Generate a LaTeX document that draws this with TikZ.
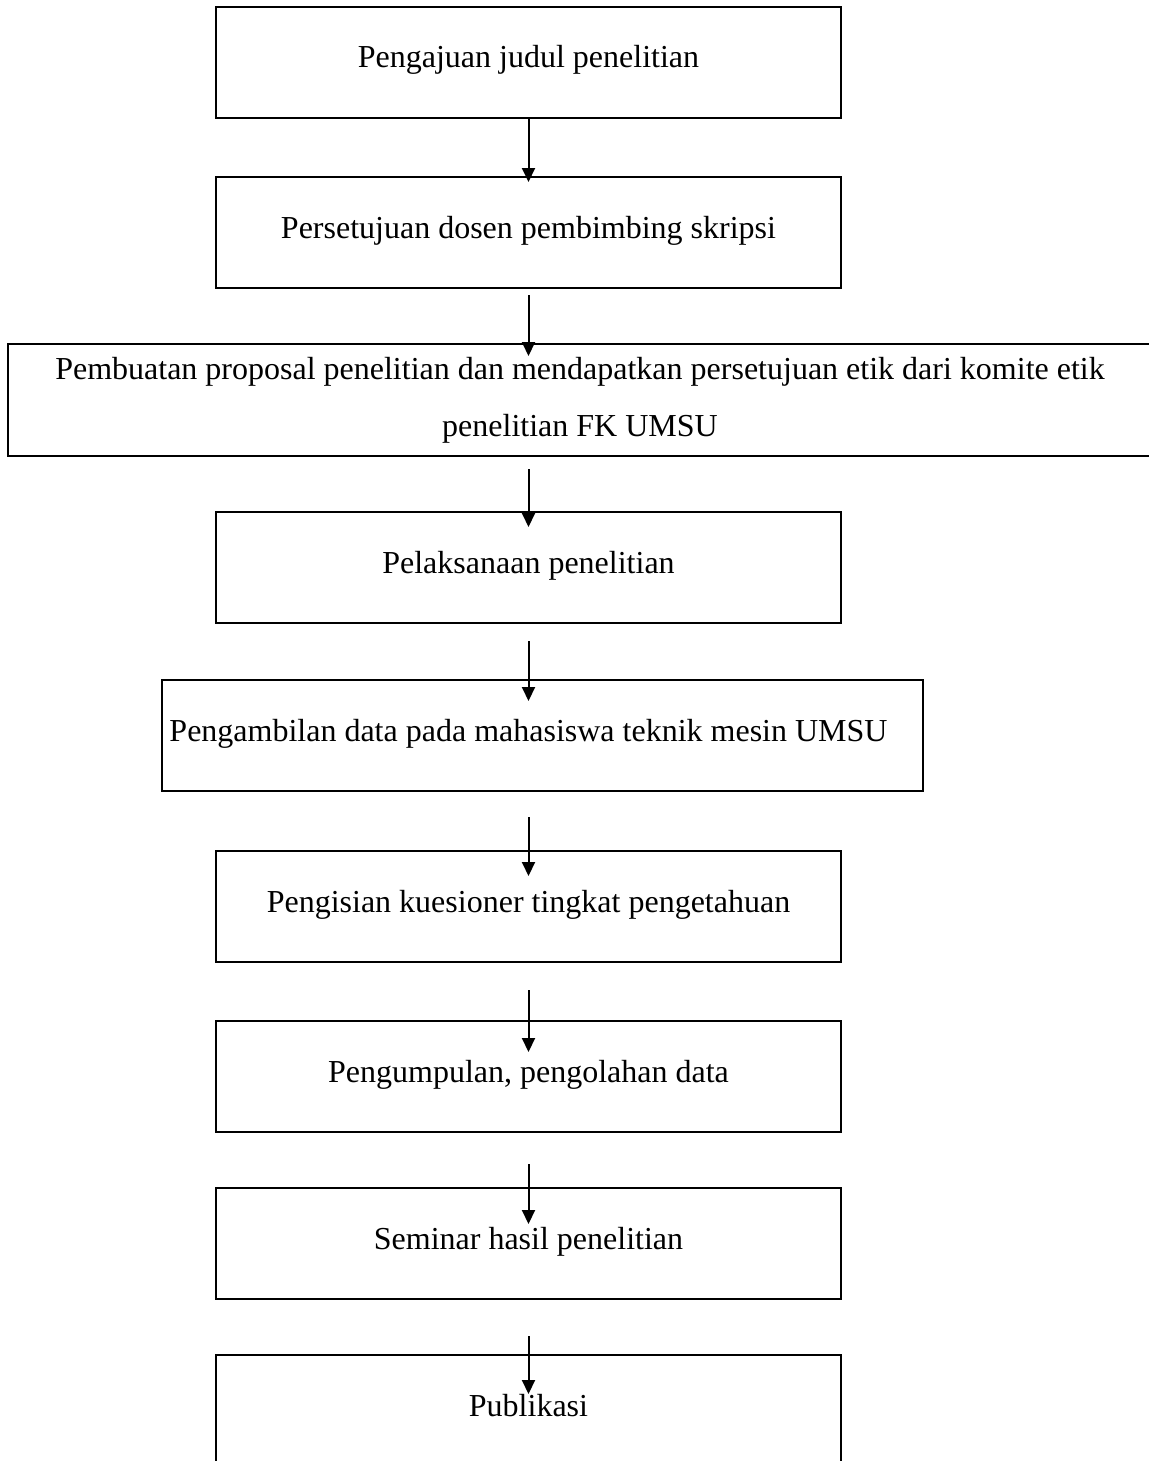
\documentclass[tikz,border=0pt]{standalone}
\usepackage{fontspec}
\setmainfont{Liberation Serif}
\usetikzlibrary{positioning, calc, arrows.meta}
\tikzset{
	stepbox/.style={draw, line width=2pt, outer sep=0pt, inner sep=0pt, minimum width=625pt, minimum height=111pt, text height=30pt, text depth=19pt},
	widebox/.style={draw, line width=2pt, outer sep=0pt, inner sep=0pt, minimum width=1144pt, minimum height=112pt, text width=1120pt, align=flush center},
	flow/.style={-{Triangle[width=13pt,length=14pt]}, line width=2pt}
}
\begin{document}
\begin{tikzpicture}[x=1pt, y=1pt, font=\fontsize{32}{57}\selectfont]
		\useasboundingbox (0,0) rectangle (1148,-1461);
		\node[stepbox] (b1) at (528.5,-62.5) {Pengajuan judul penelitian};
		\node[stepbox] (b2) [below=59pt of b1] {Persetujuan dosen pembimbing skripsi};
		\node[widebox] (b3) [below=56pt of b2, xshift=51.5pt] {Pembuatan proposal penelitian dan mendapatkan persetujuan etik dari komite etik\\ penelitian FK UMSU};
		\node[stepbox] (b4) [below=56pt of b3, xshift=-51.5pt] {Pelaksanaan penelitian};
		\node[stepbox, minimum width=761pt] (b5) [below=57pt of b4, xshift=14pt] {\hspace*{-28pt}Pengambilan data pada mahasiswa teknik mesin UMSU};
		\node[stepbox] (b6) [below=60pt of b5, xshift=-14pt] {Pengisian kuesioner tingkat pengetahuan};
		\node[stepbox] (b7) [below=59pt of b6] {Pengumpulan, pengolahan data};
		\node[stepbox] (b8) [below=56pt of b7] {Seminar hasil penelitian};
		\node[stepbox] (b9) [below=56pt of b8] {Publikasi};
		
		\draw[flow] (b1.south) -- ($(b2.north)+(0,-5)$);
		\draw[flow] ($(b2.south)+(0,-7)$) -- ($(b1.south |- b3.north)+(0,-12)$);
		\draw[flow] ($(b1.south |- b3.south)+(0,-13)$) -- ($(b4.north)+(0,-15)$);
		\draw[flow] ($(b4.south)+(0,-18)$) -- ($(b1.south |- b5.north)+(0,-21)$);
		\draw[flow] ($(b1.south |- b5.south)+(0,-26)$) -- ($(b6.north)+(0,-25)$);
		\draw[flow] ($(b6.south)+(0,-28)$) -- ($(b7.north)+(0,-31)$);
		\draw[flow] ($(b7.south)+(0,-32)$) -- ($(b8.north)+(0,-36)$);
		\draw[flow] ($(b8.south)+(0,-37)$) -- ($(b9.north)+(0,-39)$);
\end{tikzpicture}
\end{document}
